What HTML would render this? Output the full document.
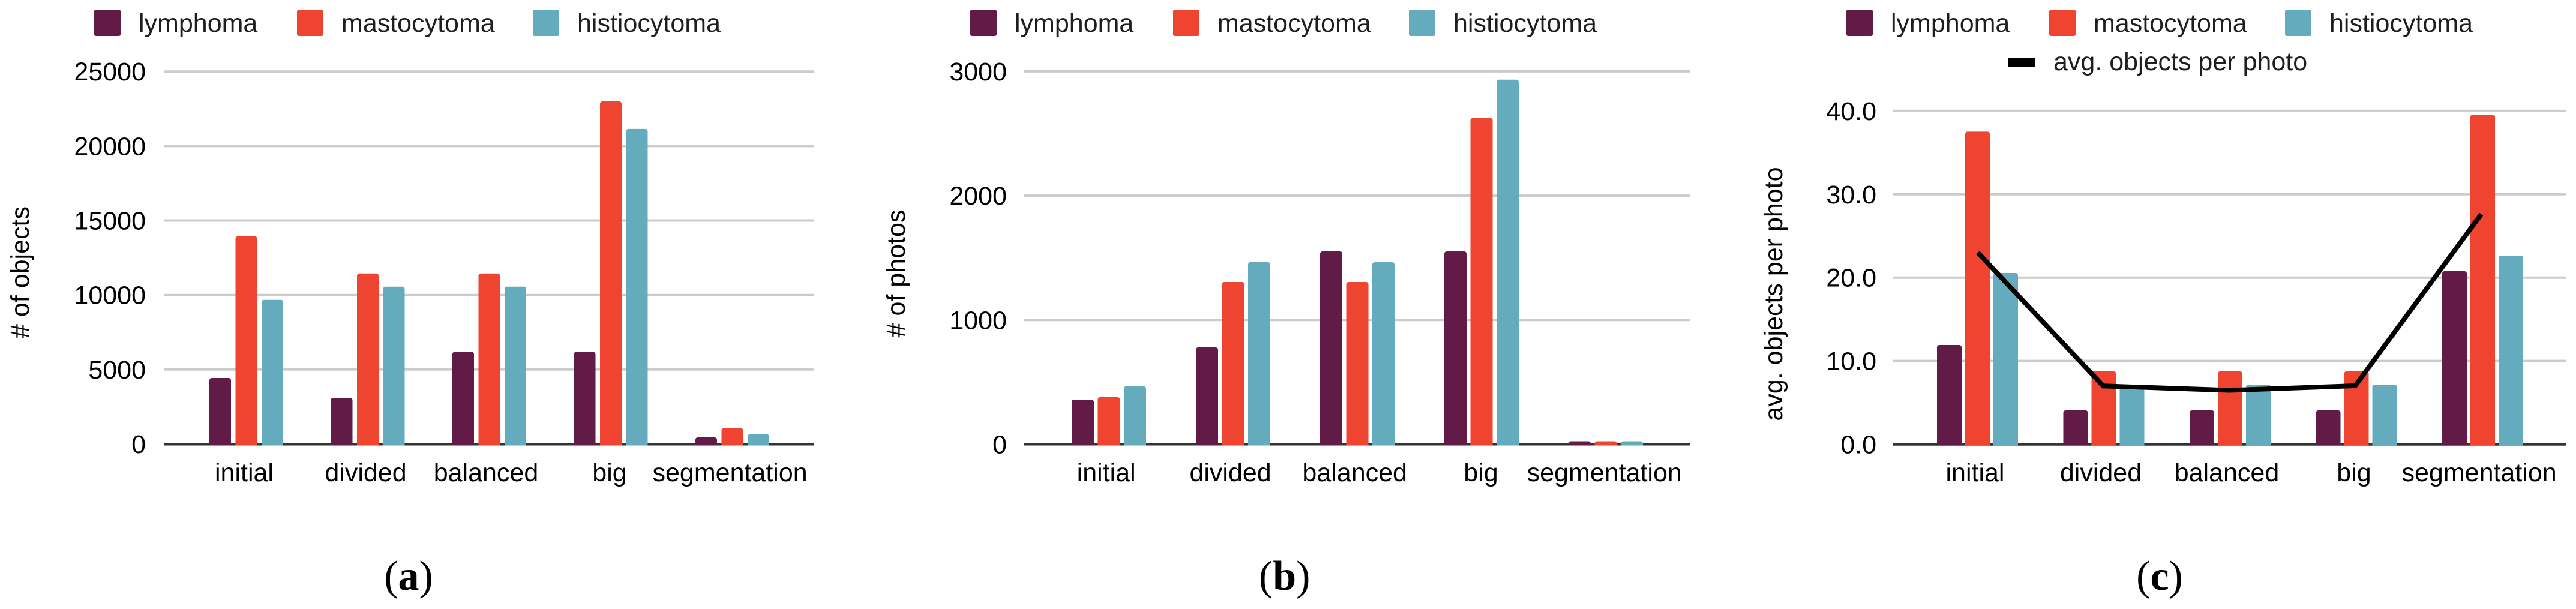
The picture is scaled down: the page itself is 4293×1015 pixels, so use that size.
<!DOCTYPE html>
<html>
<head>
<meta charset="utf-8">
<style>
  html,body{margin:0;padding:0;background:#fff;overflow:hidden;}
  svg{display:block;}
  .t{font-family:"Liberation Sans",Arial,sans-serif;font-size:43px;fill:#000;}
  .lg{font-family:"Liberation Sans",Arial,sans-serif;font-size:43px;fill:#1e1e1e;}
  .cap{font-family:"Liberation Serif","Times New Roman",serif;font-size:70px;fill:#000;}
</style>
</head>
<body>
<svg width="4293" height="1015" viewBox="0 0 4293 1015" xmlns="http://www.w3.org/2000/svg">
  <defs>
    <clipPath id="cb"><rect x="0" y="0" width="4293" height="742.5"/></clipPath>
  </defs>
  <rect x="0" y="0" width="4293" height="1015" fill="#fff"/>

  <!-- ================= PANEL A ================= -->
  <!-- legend -->
  <rect x="157" y="16" width="44" height="44" rx="3" fill="#621a47"/>
  <text class="lg" x="231" y="53">lymphoma</text>
  <rect x="495" y="16" width="44" height="44" rx="3" fill="#ee4430"/>
  <text class="lg" x="569" y="53">mastocytoma</text>
  <rect x="888" y="16" width="44" height="44" rx="3" fill="#64acbd"/>
  <text class="lg" x="962" y="53">histiocytoma</text>

  <!-- grid -->
  <g stroke="#cccccc" stroke-width="4">
    <line x1="274" y1="119.2" x2="1357" y2="119.2"/>
    <line x1="274" y1="243.4" x2="1357" y2="243.4"/>
    <line x1="274" y1="367.5" x2="1357" y2="367.5"/>
    <line x1="274" y1="491.7" x2="1357" y2="491.7"/>
    <line x1="274" y1="615.8" x2="1357" y2="615.8"/>
  </g>
  <line x1="274" y1="740.5" x2="1357" y2="740.5" stroke="#333" stroke-width="4"/>

  <!-- tick labels -->
  <g class="t" text-anchor="end">
    <text x="243" y="134">25000</text>
    <text x="243" y="258.4">20000</text>
    <text x="243" y="382.5">15000</text>
    <text x="243" y="506.7">10000</text>
    <text x="243" y="630.8">5000</text>
    <text x="243" y="755">0</text>
  </g>
  <text class="t" text-anchor="middle" transform="translate(48,454) rotate(-90)"># of objects</text>

  <!-- bars -->
  <g clip-path="url(#cb)">
    <rect x="349" y="630" width="36" height="118" rx="4" fill="#621a47"/>
    <rect x="392.5" y="393.6" width="36" height="354.4" rx="4" fill="#ee4430"/>
    <rect x="436" y="499.7" width="36" height="248.3" rx="4" fill="#64acbd"/>

    <rect x="551.5" y="663" width="36" height="85" rx="4" fill="#621a47"/>
    <rect x="595" y="455.7" width="36" height="292.3" rx="4" fill="#ee4430"/>
    <rect x="638.5" y="477.7" width="36" height="270.3" rx="4" fill="#64acbd"/>

    <rect x="754" y="586.5" width="36" height="161.5" rx="4" fill="#621a47"/>
    <rect x="797.5" y="455.7" width="36" height="292.3" rx="4" fill="#ee4430"/>
    <rect x="841" y="477.7" width="36" height="270.3" rx="4" fill="#64acbd"/>

    <rect x="956.5" y="586.5" width="36" height="161.5" rx="4" fill="#621a47"/>
    <rect x="1000" y="169" width="36" height="579" rx="4" fill="#ee4430"/>
    <rect x="1043.5" y="214.9" width="36" height="533.1" rx="4" fill="#64acbd"/>

    <rect x="1159" y="729" width="36" height="19" rx="4" fill="#621a47"/>
    <rect x="1202.5" y="713.4" width="36" height="34.6" rx="4" fill="#ee4430"/>
    <rect x="1246" y="723.7" width="36" height="24.3" rx="4" fill="#64acbd"/>
  </g>

  <!-- category labels -->
  <g class="t" text-anchor="middle">
    <text x="407" y="802">initial</text>
    <text x="609.5" y="802">divided</text>
    <text x="810" y="802">balanced</text>
    <text x="1016" y="802">big</text>
    <text x="1216.6" y="802">segmentation</text>
  </g>

  <text class="cap" x="681" y="983" text-anchor="middle">(<tspan font-weight="bold">a</tspan>)</text>

  <!-- ================= PANEL B ================= -->
  <rect x="1617" y="16" width="44" height="44" rx="3" fill="#621a47"/>
  <text class="lg" x="1691" y="53">lymphoma</text>
  <rect x="1955" y="16" width="44" height="44" rx="3" fill="#ee4430"/>
  <text class="lg" x="2029" y="53">mastocytoma</text>
  <rect x="2348" y="16" width="44" height="44" rx="3" fill="#64acbd"/>
  <text class="lg" x="2422" y="53">histiocytoma</text>

  <g stroke="#cccccc" stroke-width="4">
    <line x1="1707" y1="118.9" x2="2817" y2="118.9"/>
    <line x1="1707" y1="326.1" x2="2817" y2="326.1"/>
    <line x1="1707" y1="533.3" x2="2817" y2="533.3"/>
  </g>
  <line x1="1707" y1="740.5" x2="2817" y2="740.5" stroke="#333" stroke-width="4"/>

  <g class="t" text-anchor="end">
    <text x="1678" y="134">3000</text>
    <text x="1678" y="341">2000</text>
    <text x="1678" y="548.3">1000</text>
    <text x="1678" y="755.5">0</text>
  </g>
  <text class="t" text-anchor="middle" transform="translate(1508,456) rotate(-90)"># of photos</text>

  <g clip-path="url(#cb)">
    <rect x="1786" y="666" width="37" height="82" rx="4" fill="#621a47"/>
    <rect x="1829.5" y="662" width="37" height="86" rx="4" fill="#ee4430"/>
    <rect x="1873" y="643.7" width="37" height="104.3" rx="4" fill="#64acbd"/>

    <rect x="1993" y="579" width="37" height="169" rx="4" fill="#621a47"/>
    <rect x="2036.5" y="470" width="37" height="278" rx="4" fill="#ee4430"/>
    <rect x="2080" y="437" width="37" height="311" rx="4" fill="#64acbd"/>

    <rect x="2200" y="419" width="37" height="329" rx="4" fill="#621a47"/>
    <rect x="2243.5" y="470" width="37" height="278" rx="4" fill="#ee4430"/>
    <rect x="2287" y="437" width="37" height="311" rx="4" fill="#64acbd"/>

    <rect x="2407" y="419" width="37" height="329" rx="4" fill="#621a47"/>
    <rect x="2450.5" y="196.8" width="37" height="551.2" rx="4" fill="#ee4430"/>
    <rect x="2494" y="132.7" width="37" height="615.3" rx="4" fill="#64acbd"/>

    <rect x="2614" y="735.5" width="37" height="12.5" rx="4" fill="#621a47"/>
    <rect x="2657.5" y="735.5" width="37" height="12.5" rx="4" fill="#ee4430"/>
    <rect x="2701" y="735.5" width="37" height="12.5" rx="4" fill="#64acbd"/>
  </g>

  <g class="t" text-anchor="middle">
    <text x="1843.7" y="802">initial</text>
    <text x="2050.6" y="802">divided</text>
    <text x="2257.7" y="802">balanced</text>
    <text x="2468" y="802">big</text>
    <text x="2673.7" y="802">segmentation</text>
  </g>

  <text class="cap" x="2140.7" y="983" text-anchor="middle">(<tspan font-weight="bold">b</tspan>)</text>

  <!-- ================= PANEL C ================= -->
  <rect x="3077" y="16" width="44" height="44" rx="3" fill="#621a47"/>
  <text class="lg" x="3151" y="53">lymphoma</text>
  <rect x="3415" y="16" width="44" height="44" rx="3" fill="#ee4430"/>
  <text class="lg" x="3489" y="53">mastocytoma</text>
  <rect x="3808" y="16" width="44" height="44" rx="3" fill="#64acbd"/>
  <text class="lg" x="3882" y="53">histiocytoma</text>
  <rect x="3347" y="96" width="45" height="16" fill="#000"/>
  <text class="lg" x="3422" y="117">avg. objects per photo</text>

  <g stroke="#cccccc" stroke-width="4">
    <line x1="3154" y1="184.9" x2="4277" y2="184.9"/>
    <line x1="3154" y1="323.8" x2="4277" y2="323.8"/>
    <line x1="3154" y1="462.7" x2="4277" y2="462.7"/>
    <line x1="3154" y1="601.6" x2="4277" y2="601.6"/>
  </g>
  <line x1="3154" y1="740.8" x2="4277" y2="740.8" stroke="#333" stroke-width="4"/>

  <g class="t" text-anchor="end">
    <text x="3127" y="200">40.0</text>
    <text x="3127" y="338.8">30.0</text>
    <text x="3127" y="477.7">20.0</text>
    <text x="3127" y="616.6">10.0</text>
    <text x="3127" y="755.5">0.0</text>
  </g>
  <text class="t" text-anchor="middle" transform="translate(2970,490) rotate(-90)">avg. objects per photo</text>

  <g clip-path="url(#cb)">
    <rect x="3228" y="575" width="41" height="173" rx="4" fill="#621a47"/>
    <rect x="3275" y="219.4" width="41" height="528.6" rx="4" fill="#ee4430"/>
    <rect x="3322" y="455" width="41" height="293" rx="4" fill="#64acbd"/>

    <rect x="3438.5" y="684" width="41" height="64" rx="4" fill="#621a47"/>
    <rect x="3485.5" y="619" width="41" height="129" rx="4" fill="#ee4430"/>
    <rect x="3532.5" y="641" width="41" height="107" rx="4" fill="#64acbd"/>

    <rect x="3649" y="684" width="41" height="64" rx="4" fill="#621a47"/>
    <rect x="3696" y="619" width="41" height="129" rx="4" fill="#ee4430"/>
    <rect x="3743" y="641" width="41" height="107" rx="4" fill="#64acbd"/>

    <rect x="3859.5" y="684" width="41" height="64" rx="4" fill="#621a47"/>
    <rect x="3906.5" y="619" width="41" height="129" rx="4" fill="#ee4430"/>
    <rect x="3953.5" y="641" width="41" height="107" rx="4" fill="#64acbd"/>

    <rect x="4070" y="452" width="41" height="296" rx="4" fill="#621a47"/>
    <rect x="4117" y="191" width="41" height="557" rx="4" fill="#ee4430"/>
    <rect x="4164" y="426" width="41" height="322" rx="4" fill="#64acbd"/>
  </g>

  <polyline points="3296,421 3505,643.3 3715,650.5 3925,643 4135,357" fill="none" stroke="#000" stroke-width="8" stroke-linejoin="miter" stroke-linecap="butt"/>

  <g class="t" text-anchor="middle">
    <text x="3291.5" y="802">initial</text>
    <text x="3501" y="802">divided</text>
    <text x="3711" y="802">balanced</text>
    <text x="3923" y="802">big</text>
    <text x="4131.6" y="802">segmentation</text>
  </g>

  <text class="cap" x="3599" y="983" text-anchor="middle">(<tspan font-weight="bold">c</tspan>)</text>
</svg>
</body>
</html>
